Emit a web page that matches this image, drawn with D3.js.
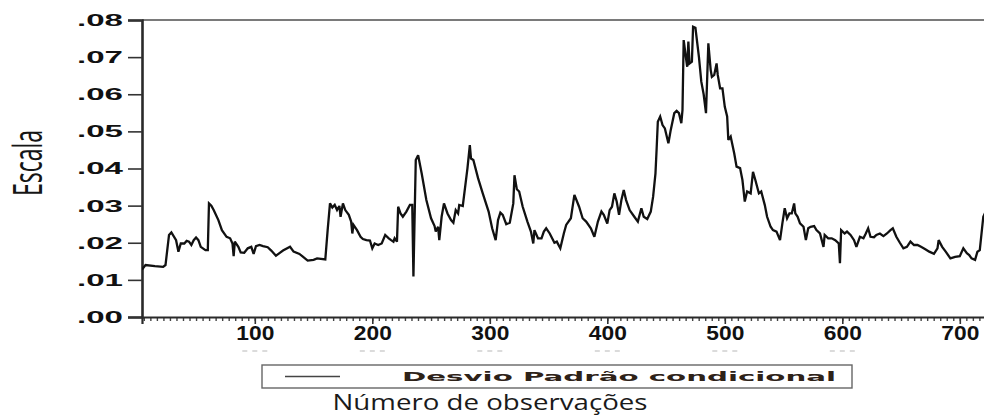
<!DOCTYPE html>
<html>
<head>
<meta charset="utf-8">
<script src="https://cdn.jsdelivr.net/npm/d3@7"></script>
<style>
  html, body { margin: 0; padding: 0; background: #fff; }
  svg { display: block; }
</style>
</head>
<body>
<svg id="chart" width="984" height="416"></svg>
<script>
// Observation numbers and conditional standard deviation at each vertex of the series
const obs = [
  4, 7, 15, 22, 24, 27, 29, 33, 35, 37, 40, 42, 44, 46, 48, 50, 52, 54, 58, 60,
  61, 63, 65, 69, 72, 76, 79, 81, 82, 83, 86, 88, 91, 94, 97, 99, 101, 104, 107, 111,
  114, 118, 121, 124, 130, 133, 138, 145, 150, 153, 160, 162, 164, 166, 168, 170, 172, 173, 175, 177,
  180, 182, 183, 184, 187, 190, 192, 195, 198, 200, 202, 205, 208, 211, 214, 216, 218, 219, 221, 222,
  224, 226, 229, 232, 234, 235, 237, 239, 242, 246, 250, 253, 254, 256, 257, 259, 261, 264, 267, 269,
  271, 273, 274, 277, 281, 283, 284, 286, 290, 294, 299, 302, 305, 307, 309, 311, 314, 317, 320, 321,
  323, 325, 328, 332, 335, 337, 338, 341, 344, 346, 348, 351, 355, 357, 360, 363, 365, 369, 372, 376,
  379, 382, 386, 389, 392, 395, 397, 400, 402, 404, 406, 408, 410, 412, 414, 416, 419, 423, 426, 429,
  431, 434, 437, 439, 441, 442, 443, 445, 447, 449, 452, 454, 457, 459, 461, 463, 464, 465, 467, 468,
  469, 470, 472, 473, 475, 478, 480, 482, 484, 486, 488, 489, 491, 493, 494, 496, 498, 500, 502, 503,
  505, 508, 510, 513, 515, 517, 519, 522, 524, 526, 529, 531, 534, 536, 539, 541, 544, 547, 549, 551,
  553, 555, 557, 559, 560, 562, 564, 567, 569, 571, 573, 576, 578, 581, 584, 585, 588, 591, 594, 597,
  598, 599, 602, 604, 607, 610, 612, 615, 618, 620, 622, 624, 627, 629, 632, 635, 638, 641, 643, 646,
  649, 652, 655, 658, 661, 664, 667, 671, 674, 678, 681, 682, 685, 688, 692, 696, 700, 703, 706, 708,
  710, 713, 715, 717, 720, 723
];
const desvio = [
  .0128, .0140, .0137, .0135, .0140, .0221, .0228, .0207, .0176, .0198, .0198, .0205, .0203, .0194, .0207, .0214, .0207, .0189, .0180, .0180,
  .0306, .0300, .0288, .0261, .0234, .0216, .0212, .0198, .0164, .0203, .0189, .0174, .0173, .0185, .0189, .0170, .0191, .0194, .0191, .0188,
  .0179, .0165, .0172, .0179, .0189, .0176, .0170, .0152, .0154, .0158, .0155, .0234, .0306, .0295, .0302, .0288, .0299, .0270, .0306, .0288,
  .0275, .0257, .0225, .0248, .0234, .0216, .0210, .0207, .0206, .0185, .0198, .0194, .0198, .0221, .0212, .0207, .0203, .0212, .0203, .0297,
  .0279, .0270, .0284, .0302, .0302, .0109, .0423, .0436, .0387, .0315, .0266, .0245, .0230, .0243, .0207, .0270, .0306, .0279, .0261, .0254,
  .0288, .0279, .0302, .0299, .0401, .0463, .0427, .0423, .0374, .0333, .0284, .0239, .0207, .0261, .0281, .0275, .0250, .0254, .0306, .0382,
  .0344, .0338, .0297, .0257, .0230, .0198, .0234, .0212, .0212, .0230, .0239, .0225, .0200, .0203, .0185, .0225, .0248, .0266, .0329, .0297,
  .0266, .0257, .0239, .0216, .0257, .0284, .0275, .0252, .0288, .0297, .0333, .0311, .0275, .0315, .0342, .0315, .0288, .0270, .0257, .0293,
  .0270, .0264, .0284, .0324, .0387, .0454, .0526, .0540, .0517, .0508, .0468, .0504, .0549, .0555, .0549, .0522, .0558, .0746, .0697, .0674,
  .0742, .0683, .0688, .0782, .0779, .0700, .0634, .0600, .0549, .0737, .0665, .0647, .0652, .0683, .0652, .0616, .0616, .0566, .0540, .0477,
  .0486, .0441, .0405, .0401, .0369, .0311, .0338, .0333, .0391, .0369, .0333, .0338, .0302, .0270, .0243, .0234, .0230, .0207, .0252, .0293,
  .0266, .0279, .0279, .0306, .0279, .0270, .0252, .0243, .0207, .0239, .0243, .0245, .0234, .0225, .0189, .0221, .0212, .0212, .0207, .0198,
  .0145, .0234, .0225, .0230, .0221, .0207, .0189, .0216, .0212, .0225, .0239, .0216, .0215, .0221, .0225, .0218, .0225, .0234, .0239, .0216,
  .0200, .0185, .0189, .0203, .0194, .0194, .0189, .0182, .0176, .0170, .0185, .0207, .0189, .0176, .0158, .0162, .0164, .0185, .0172, .0167,
  .0158, .0154, .0176, .0180, .0270, .0290
];
const yTicks = [0, 0.01, 0.02, 0.03, 0.04, 0.05, 0.06, 0.07, 0.08];
const xTicks = [100, 200, 300, 400, 500, 600, 700];
const legendLabel = "Desvio Padrão condicional";
const xTitle = "Número de observações";
const yTitle = "Escala";

const svg = d3.select("#chart");
const plotLeft = 142, plotTop = 20, plotBottom = 317;

const x = d3.scaleLinear().domain([4, 726]).range([plotLeft, plotLeft + 722 * 1.175]);
const y = d3.scaleLinear().domain([0, 0.08]).range([plotBottom, plotTop]);
const plotRight = x.range()[1];

svg.append("defs").append("clipPath").attr("id", "plot-clip")
  .append("rect").attr("x", plotLeft).attr("y", plotTop - 2)
  .attr("width", plotRight - plotLeft).attr("height", plotBottom - plotTop + 2);

// Top border of the frame
svg.append("line")
  .attr("x1", plotLeft).attr("x2", plotRight).attr("y1", plotTop).attr("y2", plotTop)
  .attr("stroke", "#7a7a7a").attr("stroke-width", 1.8);

// Y axis
const yAxis = d3.axisLeft(y).tickValues(yTicks).tickSize(14).tickPadding(5)
  .tickFormat(d => d3.format(".2f")(d).replace(/^0/, ""));
const gy = svg.append("g").attr("transform", `translate(${plotLeft},0)`).call(yAxis);
gy.select(".domain").attr("stroke", "#2a2a2a").attr("stroke-width", 2.6);
gy.selectAll(".tick line").attr("stroke", "#333").attr("stroke-width", 1.6);
gy.selectAll(".tick text")
  .attr("font-family", "Liberation Sans, Arial, sans-serif")
  .attr("font-weight", "bold").attr("font-size", 17).attr("fill", "#111")
  .attr("textLength", 46).attr("lengthAdjust", "spacingAndGlyphs");

// X axis: minor ticks then labelled major ticks
const minorVals = d3.range(0, 730, 100 / 18).filter(v => v >= x.domain()[0]);
const gxMinor = svg.append("g").attr("transform", `translate(0,${plotBottom})`)
  .call(d3.axisBottom(x).tickValues(minorVals).tickSize(4).tickFormat(""));
gxMinor.select(".domain").remove();
gxMinor.selectAll(".tick line").attr("stroke", "#444").attr("stroke-width", 1.4);

const gx = svg.append("g").attr("transform", `translate(0,${plotBottom})`)
  .call(d3.axisBottom(x).tickValues(xTicks).tickSize(7).tickPadding(2));
gx.select(".domain").attr("stroke", "#2a2a2a").attr("stroke-width", 2.2);
gx.selectAll(".tick line").attr("stroke", "#333").attr("stroke-width", 1.6);
gx.selectAll(".tick text")
  .attr("font-family", "Liberation Sans, Arial, sans-serif")
  .attr("font-weight", "bold").attr("font-size", 20).attr("fill", "#111")
  .attr("textLength", 38).attr("lengthAdjust", "spacingAndGlyphs");

// Faint marks left below the tick labels
const ghost = svg.append("g").attr("stroke", "#cfcfcf").attr("stroke-width", 1.5);
xTicks.filter(v => v < 700).forEach(v => {
  [-10, 0, 10].forEach(o => {
    ghost.append("line").attr("x1", x(v) + o - 2.5).attr("x2", x(v) + o + 2.5)
      .attr("y1", 351).attr("y2", 351);
  });
});

// The series
const line = d3.line().x((d, i) => x(obs[i])).y(d => y(d));
svg.append("path")
  .datum(desvio)
  .attr("clip-path", "url(#plot-clip)")
  .attr("fill", "none").attr("stroke", "#111").attr("stroke-width", 2.3)
  .attr("stroke-linejoin", "miter").attr("stroke-miterlimit", 3)
  .attr("d", line);

// Legend
const lg = svg.append("g");
lg.append("rect").attr("x", 262).attr("y", 365).attr("width", 590).attr("height", 23)
  .attr("fill", "#fff").attr("stroke", "#666").attr("stroke-width", 1.4);
lg.append("line").attr("x1", 285).attr("x2", 340).attr("y1", 376.5).attr("y2", 376.5)
  .attr("stroke", "#444").attr("stroke-width", 1.5);
lg.append("text").attr("x", 402).attr("y", 381)
  .attr("font-family", "DejaVu Sans, sans-serif").attr("font-weight", "bold")
  .attr("font-size", 11.5).attr("fill", "#2e2218")
  .attr("textLength", 434).attr("lengthAdjust", "spacingAndGlyphs")
  .text(legendLabel);

// Axis titles
svg.append("text").attr("x", 490).attr("y", 410).attr("text-anchor", "middle")
  .attr("font-family", "Open Sans, sans-serif")
  .attr("font-size", 22).attr("fill", "#1a1a1a")
  .attr("textLength", 315).attr("lengthAdjust", "spacingAndGlyphs")
  .text(xTitle);

svg.append("text").attr("transform", "translate(42,163) rotate(-90)")
  .attr("text-anchor", "middle")
  .attr("font-family", "Open Sans, sans-serif")
  .attr("font-size", 40).attr("fill", "#151515")
  .attr("textLength", 66).attr("lengthAdjust", "spacingAndGlyphs")
  .text(yTitle);
</script>
</body>
</html>
